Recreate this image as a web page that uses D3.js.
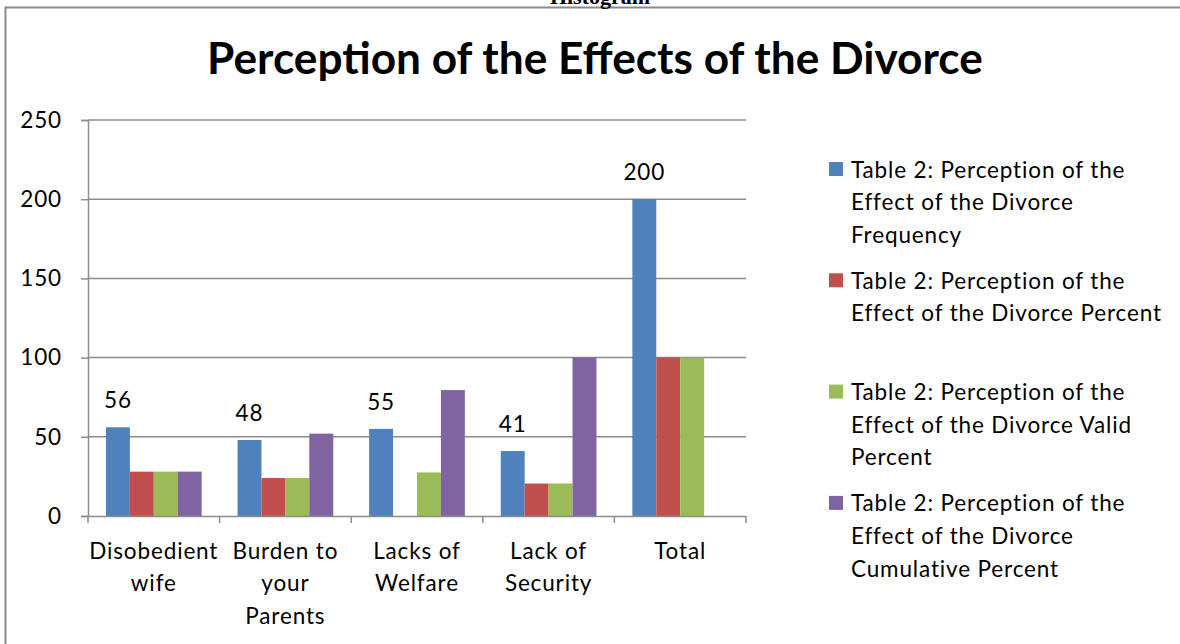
<!DOCTYPE html>
<html>
<head>
<meta charset="utf-8">
<script src="https://cdn.jsdelivr.net/npm/d3@7/dist/d3.min.js"></script>
<style>
  html, body { margin: 0; padding: 0; background: #fff; overflow: hidden; }
  svg { display: block; }
</style>
</head>
<body>
<svg id="chart" width="1180" height="644"></svg>
<script>
// ---- data ----
const categories = ["Disobedient\nwife", "Burden to\nyour\nParents", "Lacks of\nWelfare", "Lack of\nSecurity", "Total"];
const frequency = [56, 48, 55, 41, 200];
const percent = [28, 24, null, 20.5, 100];
const validPercent = [28, 24, 27.5, 20.5, 100];
const cumulativePercent = [28, 52, 79.5, 100, null];
const seriesNames = [
  "Table 2: Perception of the\nEffect of the Divorce\nFrequency",
  "Table 2: Perception of the\nEffect of the Divorce Percent",
  "Table 2: Perception of the\nEffect of the Divorce Valid\nPercent",
  "Table 2: Perception of the\nEffect of the Divorce\nCumulative Percent"
];
const seriesColors = ["#4F81BD", "#C0504D", "#9BBB59", "#8064A2"];
const yTicks = [0, 50, 100, 150, 200, 250];
const titleText = "Perception of the Effects of the Divorce";
const headerText = "Histogram";

const series = [frequency, percent, validPercent, cumulativePercent];
const FONT = "Lato, 'Open Sans', sans-serif";
const FS = 22.5;

const svg = d3.select("#chart");

// measure body font to mimic the reference's wider text
const probe = svg.append("text").attr("font-family", FONT).attr("font-size", FS)
  .text("Effect of the Divorce Percent");
const LS = (310 - probe.node().getComputedTextLength()) / 29;
probe.remove();
function bodyText(sel) {
  return sel.attr("font-family", FONT).attr("font-size", FS)
    .attr("letter-spacing", LS).attr("fill", "#000");
}

// outer frame (extends past right and bottom edges)
svg.append("rect")
  .attr("x", 5.5).attr("y", 7.5).attr("width", 1300).attr("height", 800)
  .attr("fill", "none").attr("stroke", "#8a8a8a").attr("stroke-width", 2);

// cropped header text above frame
svg.append("text")
  .attr("x", 600).attr("y", 4)
  .attr("text-anchor", "middle")
  .attr("font-family", "'Liberation Serif', 'DejaVu Serif', serif")
  .attr("font-weight", "bold").attr("font-size", 22)
  .text(headerText);

// title
const title = svg.append("text")
  .attr("x", 595).attr("y", 74)
  .attr("text-anchor", "middle")
  .attr("font-family", FONT)
  .attr("font-weight", "bold").attr("font-size", 40)
  .attr("fill", "#000")
  .text(titleText);
{
  const w = title.node().getComputedTextLength();
  title.attr("font-size", 40 * 776 / w);
}

// scales
const x = d3.scaleBand().domain(categories).range([88, 746]).paddingInner(0).paddingOuter(0);
const y = d3.scaleLinear().domain([0, 250]).range([516, 120]);
const barW = x.bandwidth() / 5.5;
const sx = d3.scaleBand().domain(d3.range(4)).range([barW * 0.75, barW * 4.75]).padding(0);

// gridlines
svg.append("g").selectAll("line").data(yTicks.filter(d => d > 0)).join("line")
  .attr("x1", 88).attr("x2", 746)
  .attr("y1", d => y(d)).attr("y2", d => y(d))
  .attr("stroke", "#8c8c8c").attr("stroke-width", 1.5);

// bars
const groups = svg.append("g").selectAll("g").data(categories).join("g")
  .attr("transform", d => `translate(${x(d)},0)`);
groups.selectAll("rect")
  .data((c, i) => series.map((s, k) => ({ k, v: s[i] })).filter(d => d.v != null))
  .join("rect")
  .attr("x", d => sx(d.k))
  .attr("width", sx.bandwidth())
  .attr("y", d => y(d.v))
  .attr("height", d => y(0) - y(d.v))
  .attr("fill", d => seriesColors[d.k]);

// data labels (frequency)
svg.append("g").selectAll("text").data(categories).join("text")
  .call(bodyText)
  .attr("x", d => x(d) + sx(0) + sx.bandwidth() / 2)
  .attr("y", (d, i) => y(frequency[i]) - 19)
  .attr("text-anchor", "middle")
  .text((d, i) => frequency[i]);

// y axis
const yAxis = svg.append("g").attr("transform", "translate(88,0)")
  .call(d3.axisLeft(y).tickValues(yTicks).tickSize(7).tickPadding(19));
yAxis.select(".domain").attr("stroke", "#8c8c8c").attr("stroke-width", 1.5);
yAxis.selectAll(".tick line").attr("stroke", "#8c8c8c").attr("stroke-width", 1.5);
yAxis.selectAll(".tick text").call(bodyText);

// x axis
const xAxis = svg.append("g").attr("transform", "translate(0,516)")
  .call(d3.axisBottom(x).tickSize(0).tickFormat(""));
xAxis.select(".domain").attr("stroke", "#8c8c8c").attr("stroke-width", 1.5);
// boundary ticks
svg.append("g").selectAll("line").data(categories.concat(["__end"])).join("line")
  .attr("x1", (d, i) => i < categories.length ? x(d) : x.range()[1])
  .attr("x2", (d, i) => i < categories.length ? x(d) : x.range()[1])
  .attr("y1", 516).attr("y2", 523)
  .attr("stroke", "#8c8c8c").attr("stroke-width", 1.5);
// category labels
const catLabels = svg.append("g").selectAll("text").data(categories).join("text")
  .call(bodyText)
  .attr("text-anchor", "middle");
catLabels.each(function (d) {
  const t = d3.select(this);
  d.split("\n").forEach((line, j) => {
    t.append("tspan")
      .attr("x", x(d) + x.bandwidth() / 2)
      .attr("y", 550 + j * 32.6)
      .attr("dominant-baseline", "central")
      .text(line);
  });
});

// legend
const legend = svg.append("g").selectAll("g").data(seriesNames).join("g")
  .attr("transform", (d, i) => `translate(829,${169 + i * 111.3})`);
legend.append("rect")
  .attr("x", 0).attr("y", -7).attr("width", 14).attr("height", 14)
  .attr("fill", (d, i) => seriesColors[i]);
legend.append("text")
  .call(bodyText)
  .each(function (d) {
    const t = d3.select(this);
    d.split("\n").forEach((line, j) => {
      t.append("tspan").attr("x", 22).attr("y", j * 32.6)
        .attr("dominant-baseline", "central").text(line);
    });
  });
</script>
</body>
</html>
